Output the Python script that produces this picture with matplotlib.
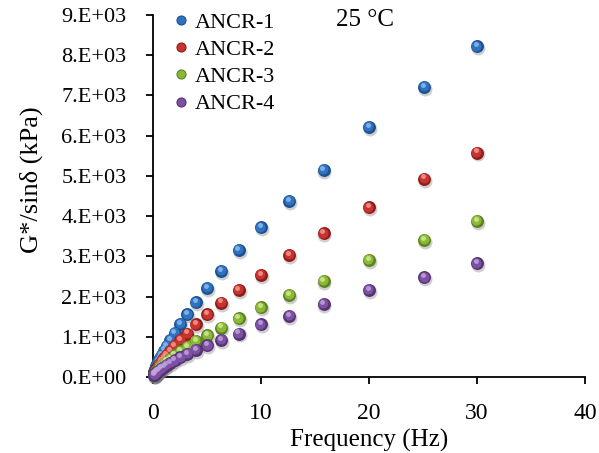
import matplotlib
matplotlib.use("Agg")
import matplotlib.pyplot as plt
from matplotlib.transforms import offset_copy
from matplotlib.lines import Line2D

plt.rcParams['font.family'] = ['Liberation Serif', 'DejaVu Serif']

freq = [0.1, 0.126, 0.158, 0.2, 0.251, 0.316, 0.398, 0.501, 0.631, 0.794,
        1.0, 1.26, 1.58, 2.0, 2.51, 3.16, 3.98, 5.01, 6.31, 7.94,
        10.0, 12.6, 15.8, 20.0, 25.1, 30.0]

ancr1 = [114, 136, 162, 193, 230, 273, 325, 387, 461, 549,
         653, 777, 925, 1100, 1320, 1560, 1860, 2210, 2640, 3160,
         3720, 4380, 5150, 6220, 7210, 8220]
ancr2 = [81, 96, 115, 136, 162, 193, 230, 273, 325, 387,
         460, 548, 652, 775, 920, 1080, 1310, 1560, 1850, 2160,
         2540, 3030, 3570, 4220, 4930, 5580]
ancr3 = [60, 71, 84, 99, 117, 138, 164, 194, 230, 272,
         322, 382, 452, 535, 635, 750, 900, 1040, 1230, 1460,
         1730, 2040, 2390, 2910, 3410, 3880]
ancr4 = [49, 58, 68, 80, 94, 111, 131, 155, 182, 214,
         252, 297, 350, 412, 485, 570, 670, 790, 920, 1080,
         1310, 1520, 1820, 2160, 2480, 2830]

series_names = ['ANCR-1', 'ANCR-2', 'ANCR-3', 'ANCR-4']
xticks = [0, 10, 20, 30, 40]
yticks = [0, 1000, 2000, 3000, 4000, 5000, 6000, 7000, 8000, 9000]
ytick_labels = ['0.E+00', '1.E+03', '2.E+03', '3.E+03', '4.E+03',
                '5.E+03', '6.E+03', '7.E+03', '8.E+03', '9.E+03']

# (dark edge, base, highlight)
palette = [
    ('#1E4F8F', '#2F73C0', '#8DBBEF'),
    ('#8C1D1C', '#C9332F', '#F29A92'),
    ('#5C8320', '#8BB935', '#CFE99A'),
    ('#553270', '#7C50A2', '#BFA3DA'),
]

fig = plt.figure(figsize=(5.99, 4.53), dpi=100)
ax = fig.add_axes([0.2554, 0.1678, 0.7212, 0.7991])

ms = 9.3
data = [ancr1, ancr2, ancr3, ancr4]
for i, (vals, (dark, base, light)) in enumerate(zip(data, palette)):
    z = 3 + i
    sh = offset_copy(ax.transData, fig=fig, x=0.6, y=-1.4, units='points')
    ax.plot(freq, vals, 'o', ms=ms * 1.08, color='#777777', alpha=0.35,
            mec='none', transform=sh, clip_on=False, zorder=z)
    ax.plot(freq, vals, 'o', ms=ms, color=dark, mec='none',
            clip_on=False, zorder=z + 0.1)
    t1 = offset_copy(ax.transData, fig=fig, x=-0.35, y=0.45, units='points')
    ax.plot(freq, vals, 'o', ms=ms * 0.78, color=base, mec='none',
            transform=t1, clip_on=False, zorder=z + 0.2)
    t2 = offset_copy(ax.transData, fig=fig, x=-0.9, y=1.6, units='points')
    ax.plot(freq, vals, 'o', ms=ms * 0.38, color=light, mec='none',
            alpha=0.85, transform=t2, clip_on=False, zorder=z + 0.3)

ax.set_xlim(0, 40)
ax.set_ylim(0, 9000)
ax.set_xticks(xticks)
ax.set_yticks(yticks)
ax.set_yticklabels(ytick_labels)
ax.tick_params(direction='out', length=5, width=1.3, colors='black')
ax.tick_params(axis='y', labelsize=16, pad=14)
ax.tick_params(axis='x', labelsize=17, pad=14)
for s in ['top', 'right']:
    ax.spines[s].set_visible(False)
for s in ['left', 'bottom']:
    ax.spines[s].set_linewidth(1.3)
    ax.spines[s].set_zorder(2)

ax.set_xlabel('Frequency (Hz)', fontsize=18, labelpad=3)
ax.set_ylabel('G*/sinδ (kPa)', fontsize=19)
ax.yaxis.set_label_coords(-0.255, 0.544)

handles = [Line2D([], [], ls='none', marker='o', ms=6.5, mfc=p[1], mec=p[0], mew=0.8)
           for p in palette]
leg = fig.legend(handles, series_names, loc='upper left',
                 bbox_to_anchor=(0.261, 1.0), frameon=False, fontsize=16,
                 handletextpad=0.1, labelspacing=0.3, borderaxespad=0.15,
                 handlelength=1.1)

fig.text(0.561, 0.955, '25 °C', fontsize=18, ha='left', va='center')

fig.savefig('out.png', dpi=100)
